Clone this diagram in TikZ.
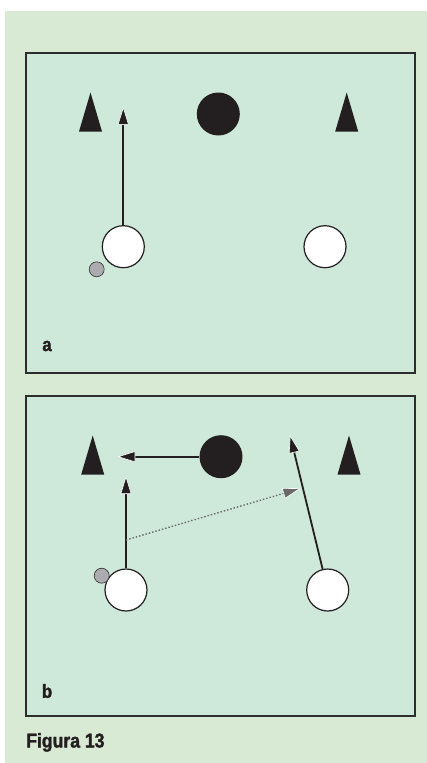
\documentclass[tikz,border=0pt]{standalone}
\usepackage{fontspec}
\newfontfamily\figfont[FakeStretch=0.88,FakeBold=1.6]{Liberation Sans Bold}
\usetikzlibrary{arrows.meta,shapes.geometric}
\definecolor{PageGreen}{RGB}{217,234,212}
\definecolor{FieldGreen}{RGB}{206,232,218}
\definecolor{InkBlack}{RGB}{35,31,32}
\definecolor{FrameGray}{RGB}{45,45,45}
\definecolor{BallGray}{RGB}{172,172,176}
\definecolor{PassGray}{RGB}{105,105,105}
\tikzset{
  panel/.style={draw=FrameGray,fill=FieldGreen,line width=1.8pt,
    minimum width=389pt,minimum height=320pt,anchor=north west,inner sep=0pt},
  panellabel/.style={font=\figfont\fontsize{19}{19}\selectfont,text=InkBlack},
  cone/.style={isosceles triangle,shape border rotate=90,isosceles triangle stretches,
    fill=InkBlack,minimum width=23pt,minimum height=39pt,inner sep=0pt,anchor=apex},
  opponent/.style={circle,fill=InkBlack,minimum size=43pt,inner sep=0pt},
  player/.style={circle,draw=InkBlack,fill=white,line width=1.2pt,minimum size=42pt,inner sep=0pt},
  ball/.style={circle,draw=FrameGray,fill=BallGray,line width=0.6pt,minimum size=15pt,inner sep=0pt},
  run/.style={draw=InkBlack,line width=1.8pt,
    -{Triangle[length=18pt,width=11pt,color=white,fill=InkBlack,line width=0.6pt]}},
  pass/.style={draw=PassGray,line width=1.4pt,dotted,
    -{Triangle[length=18pt,width=11pt,color=white,fill=PassGray,line width=0.6pt]}}
}
\begin{document}
\begin{tikzpicture}[x=1pt,y=-1pt]
  \useasboundingbox (0,0) rectangle (427,763);
  \fill[PageGreen] (5,11) rectangle (427,763);

  % panel a
  \node[panel] (fielda) at (25,52) {};
  \node[cone] (conea1) at (90.5,92) {};
  \node[cone] (conea2) at (346.7,92) {};
  \node[opponent] (oppa) at (218.3,114) {};
  \node[player] (playera1) at (123.3,246.7) {};
  \node[player] (playera2) at (325,246.7) {};
  \node[ball] (balla) at (96.7,269.3) {};
  \coordinate (runa) at (123.3,106.7);
  \draw[run] (playera1) -- (runa);
  \node[panellabel] (labela) at (47,346) {a};

  % panel b
  \node[panel] (fieldb) at (25,395) {};
  \node[cone] (coneb1) at (92.7,435) {};
  \node[cone] (coneb2) at (349,435) {};
  \node[opponent] (oppb) at (221,456.7) {};
  \node[player] (playerb1) at (126,590) {};
  \node[player] (playerb2) at (327.7,590) {};
  \node[ball] (ballb) at (101.7,575.7) {};
  \coordinate (closeb) at (117.3,456.7);
  \coordinate (runb1) at (126,476);
  \coordinate (runb2) at (290,435);
  \coordinate (passfrom) at (126,540);
  \coordinate (passto) at (300.7,488.3);
  \draw[run] (oppb) -- (closeb);
  \draw[run] (playerb1) -- (runb1);
  \draw[run] (playerb2) -- (runb2);
  \draw[pass] (passfrom) -- (passto);
  \node[panellabel] (labelb) at (47,691) {b};

  \node[anchor=base west,font=\figfont\fontsize{20}{20}\selectfont,text=InkBlack] (caption) at (22.7,747.5) {Figura 13};
\end{tikzpicture}
\end{document}
